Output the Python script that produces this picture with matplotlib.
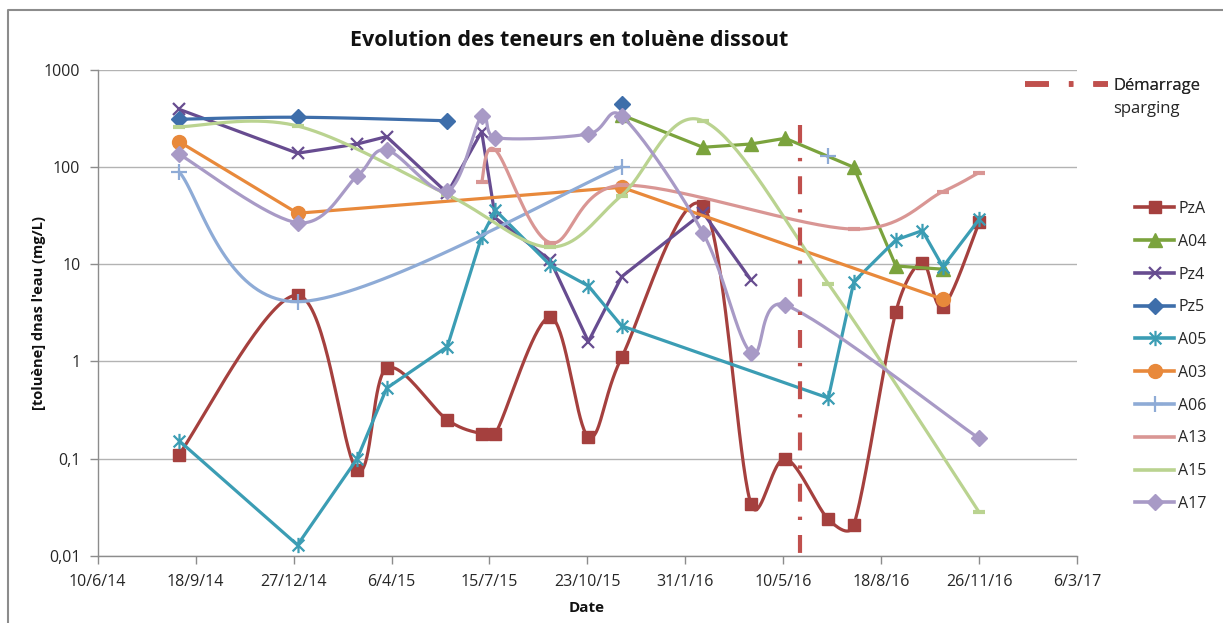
import matplotlib
matplotlib.use("Agg")
import matplotlib.pyplot as plt
import matplotlib.dates as mdates
from matplotlib.lines import Line2D
from matplotlib.path import Path
from matplotlib.ticker import FixedLocator, FuncFormatter, NullLocator
import numpy as np

plt.rcParams['font.family'] = ['Open Sans', 'DejaVu Sans']

# sampling campaigns (shared x for all wells)
campaigns = ["2014-09-01", "2014-12-31", "2015-03-02", "2015-04-01", "2015-06-02",
             "2015-07-07", "2015-07-21", "2015-09-15", "2015-10-24", "2015-11-27",
             "2016-02-18", "2016-04-07", "2016-05-12", "2016-06-25", "2016-07-21",
             "2016-09-02", "2016-09-29", "2016-10-20", "2016-11-26"]

# toluene (mg/L), None = not sampled
PzA = [0.11, 4.8, 0.076, 0.85, 0.25, 0.18, 0.18, 2.85, 0.168, 1.1,
       40, 0.034, 0.1, 0.0237, 0.0207, 3.25, 10.4, 3.66, 27]
A04 = [None, None, None, None, None, None, None, None, None, 344,
       160, 173, 198, None, 99.6, 9.6, None, 8.9, None]
Pz4 = [394, 139, 173, 206, 54, 232, 30, 11, 1.6, 7.45,
       34, 6.9, None, None, None, None, None, None, None]
Pz5 = [311, 326, None, None, 300, None, None, None, None, 447,
       None, None, None, None, None, None, None, None, None]
A05 = [0.153, 0.0129, 0.1, 0.53, 1.42, 19.2, 36, 9.8, 5.98, 2.32,
       None, None, None, 0.42, 6.6, 17.8, 22.2, 9.4, 29]
A03 = [183, 33.5, None, None, None, None, None, None, None, 62,
       None, None, None, None, None, None, None, 4.36, None]
A06 = [89.7, 4.12, None, None, None, None, None, None, None, 101,
       None, None, None, 130, None, None, None, None, None]
A13 = [None, None, None, None, None, 70, 150, 16.7, None, 65,
       None, None, None, None, 23, None, None, 56, 88]
A15 = [260, 265, None, None, 52, None, None, 15, None, 51,
       300, None, None, 6.3, None, None, None, None, 0.028]
A17 = [136, 26.8, 81, 150, 57, 336, 201, None, 219, 336,
       21, 1.23, 3.81, None, None, None, None, None, 0.161]

# line is interrupted after these dates (blank cell in the sheet)
gap_after = {"Pz5": "2015-06-02", "A06": "2015-11-27"}

sparging_date = "2016-05-27"
sparging_top = 270

asterisk = Path([(-1, -1), (1, 1), (-1, 1), (1, -1), (0, -1.3), (0, 1.3)],
                [Path.MOVETO, Path.LINETO] * 3)

series = [
    ("PzA", PzA, "#A5403E", "s", 9, True),
    ("A04", A04, "#7BA33D", "^", 10, False),
    ("Pz4", Pz4, "#674C90", "x", 9, False),
    ("Pz5", Pz5, "#3E6EAA", "D", 8, True),
    ("A05", A05, "#3B9DB4", asterisk, 11, False),
    ("A03", A03, "#E8893B", "o", 10, False),
    ("A06", A06, "#8EABD6", "+", 11, True),
    ("A13", A13, "#D99694", "_", 8, True),
    ("A15", A15, "#BAD390", "_", 8, True),
    ("A17", A17, "#A89AC6", "D", 8, True),
]

# approx. pixels per day and per decade, used so smoothing works in screen space
SX, SY = 0.977, 97.1


def excel_smooth(xs, ys, n=40):
    # bezier through the points, handles = 1/6 of neighbour chord,
    # capped at half the segment (Excel "smoothed line")
    P = np.column_stack([xs * SX, ys * SY])
    if len(P) < 3:
        return xs, ys
    out = [P[0]]
    t = np.linspace(0, 1, n)[1:, None]
    for i in range(len(P) - 1):
        p0 = P[i - 1] if i > 0 else P[i]
        p1, p2 = P[i], P[i + 1]
        p3 = P[i + 2] if i + 2 < len(P) else P[i + 1]
        half = np.hypot(*(p2 - p1)) / 2
        t1 = (p2 - p0) / 6.0
        t2 = (p3 - p1) / 6.0
        if np.hypot(*t1) > half:
            t1 = t1 * half / np.hypot(*t1)
        if np.hypot(*t2) > half:
            t2 = t2 * half / np.hypot(*t2)
        c1, c2 = p1 + t1, p2 - t2
        seg = (1 - t) ** 3 * p1 + 3 * (1 - t) ** 2 * t * c1 + 3 * (1 - t) * t ** 2 * c2 + t ** 3 * p2
        out.extend(seg)
    out = np.array(out)
    return out[:, 0] / SX, out[:, 1] / SY


fig = plt.figure(figsize=(12.23, 6.23), dpi=100)
ax = fig.add_axes([0.0799, 0.108, 0.8008, 0.7797])

xdates = mdates.datestr2num(campaigns)
handles = []
for name, vals, color, marker, ms, smooth in series:
    x = np.array([d for d, v in zip(xdates, vals) if v is not None])
    y = np.array([v for v in vals if v is not None], dtype=float)
    cut = [0, len(x)]
    if name in gap_after:
        k = int(np.searchsorted(x, mdates.datestr2num(gap_after[name]))) + 1
        cut = [0, k, len(x)]
    for a, b in zip(cut[:-1], cut[1:]):
        xs, ys = x[a:b], np.log10(y[a:b])
        if len(xs) < 2:
            continue
        if smooth:
            xs, ys = excel_smooth(xs, ys)
        ax.plot(xs, 10 ** ys, color=color, lw=2.3, solid_capstyle='round',
                solid_joinstyle='round')
    mew = 1.6 if marker in ("x", "+") or marker is asterisk else (3 if marker == "_" else 1)
    ax.plot(x, y, ls='none', marker=marker, ms=ms, color=color, mfc=color, mec=color, mew=mew)
    handles.append(Line2D([], [], color=color, lw=2.6, marker=marker, ms=ms if marker != "_" else 0,
                          mfc=color, mec=color, mew=mew, label=name))

sd = mdates.datestr2num(sparging_date)
sparg_style = (0, (4.3, 3.6, 0.8, 3.6))
ax.plot([sd, sd], [sparging_top, 0.01], color="#C0504D", lw=3, ls=sparg_style)

ax.set_yscale('log')
ax.set_ylim(0.01, 1000)
ax.yaxis.set_major_locator(FixedLocator([0.01, 0.1, 1, 10, 100, 1000]))
ax.yaxis.set_minor_locator(NullLocator())
ax.yaxis.set_major_formatter(FuncFormatter(lambda v, p: ('%g' % v).replace('.', ',')))

x0 = mdates.datestr2num("2014-06-10")
ax.set_xlim(x0, x0 + 1000)
ax.xaxis.set_major_locator(FixedLocator(x0 + np.arange(0, 1001, 100)))
ax.xaxis.set_major_formatter(FuncFormatter(
    lambda v, p: '%d/%d/%d' % (mdates.num2date(v).day, mdates.num2date(v).month, mdates.num2date(v).year % 100)))

ax.grid(axis='y', color='#B3B3B3', lw=1)
ax.set_axisbelow(True)
for s in ('top', 'right'):
    ax.spines[s].set_visible(False)
for s in ('left', 'bottom'):
    ax.spines[s].set_color('#8C8C8C')
    ax.spines[s].set_linewidth(1)
ax.tick_params(length=5.5, width=1, color='#8C8C8C', labelsize=11.5, labelcolor='#262626')
ax.tick_params(axis='x', pad=8)
ax.tick_params(axis='y', pad=7)

fig.text(569 / 1223, 1 - 40 / 623, "Evolution des teneurs en toluène dissout",
         ha='center', va='center', fontsize=15.5, fontweight='bold', color='#111111')
fig.text(39 / 1223, ax.get_position().y0 + ax.get_position().height / 2,
         "[toluène] dnas l'eau (mg/L)", rotation=90, ha='center', va='center',
         fontsize=10.5, fontweight='bold', color='#111111')
fig.text(587 / 1223, 1 - 608 / 623, "Date", ha='center', va='center',
         fontsize=11, fontweight='bold', color='#111111')

leg1 = fig.legend(handles=[Line2D([], [], color="#C0504D", lw=4, ls=sparg_style, label="Démarrage")],
                  loc='center left', bbox_to_anchor=(1025 / 1223, 1 - 86 / 623),
                  frameon=False, fontsize=12, handlelength=5.0, handletextpad=0.3,
                  borderpad=0, borderaxespad=0, labelcolor='#262626')
fig.add_artist(leg1)
fig.text(1113 / 1223, 1 - 109 / 623, "sparging", ha='left', va='center',
         fontsize=12, color='#262626')
fig.legend(handles=handles, loc='upper left', bbox_to_anchor=(1135 / 1223, 1 - 201 / 623),
           frameon=False, fontsize=11.5, handlelength=2.45, handletextpad=0.25,
           labelspacing=1.05, borderpad=0, borderaxespad=0, labelcolor='#262626')

# outer chart border (top and left visible in the screenshot)
fig.add_artist(Line2D([8 / 1223, 8 / 1223, 1], [0, 1 - 10 / 623, 1 - 10 / 623],
                      transform=fig.transFigure, color='#8C8C8C', lw=1.5))

fig.savefig("out.png", dpi=100)
